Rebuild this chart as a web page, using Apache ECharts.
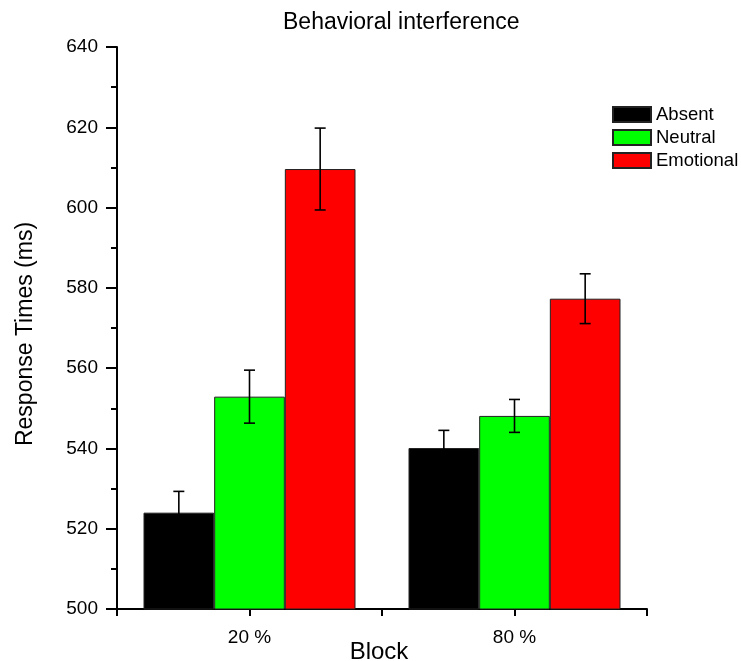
<!DOCTYPE html>
<html>
<head>
<meta charset="utf-8">
<script src="https://cdn.jsdelivr.net/npm/echarts@6/dist/echarts.min.js"></script>
<style>
  html, body { margin: 0; padding: 0; background: #fff; }
  #chart { width: 741px; height: 661px; }
</style>
</head>
<body>
<div id="chart"></div>
<script>
// Block conditions on the x axis
var blocks = ['20 %', '80 %'];
// Mean response times (ms) per distractor type
var absent = [524.0, 540.1];
var neutral = [552.9, 548.1];
var emotional = [609.6, 577.3];
// Standard errors (ms)
var absentErr = [5.3, 4.4];
var neutralErr = [6.6, 4.1];
var emotionalErr = [10.2, 6.2];
var seriesNames = ['Absent', 'Neutral', 'Emotional'];
var colors = ['#000000', '#00ff00', '#ff0000'];

var FONT = '"Liberation Sans", Arial, sans-serif';
var CAT_GAP = 0.2;   // fraction of band left empty around each group

function errorSeries(idx, means, errs) {
  var data = means.map(function (m, i) { return [i, m, errs[i]]; });
  return {
    type: 'custom',
    name: seriesNames[idx] + ' SE',
    xAxisIndex: 0,
    yAxisIndex: 0,
    z: 5,
    silent: true,
    data: data,
    renderItem: function (params, api) {
      var cat = api.value(0);
      var mean = api.value(1);
      var err = api.value(2);
      var band = api.size([1, 0])[0];
      var barW = band * (1 - CAT_GAP) / 3;
      var center = api.coord([cat, mean]);
      var x = center[0] + (idx - 1) * barW;
      var top = api.coord([cat, mean + err])[1];
      var bot = api.coord([cat, mean - err])[1];
      var cap = 5.5;
      var st = { stroke: '#000', lineWidth: 1.6 };
      return {
        type: 'group',
        children: [
          { type: 'line', shape: { x1: x, y1: top, x2: x, y2: bot }, style: st },
          { type: 'line', shape: { x1: x - cap, y1: top, x2: x + cap, y2: top }, style: st },
          { type: 'line', shape: { x1: x - cap, y1: bot, x2: x + cap, y2: bot }, style: st }
        ]
      };
    }
  };
}

function barSeries(idx, values) {
  return {
    type: 'bar',
    name: seriesNames[idx],
    data: values,
    xAxisIndex: 0,
    yAxisIndex: 0,
    barGap: '0%',
    barCategoryGap: (CAT_GAP * 100) + '%',
    itemStyle: { color: colors[idx], borderColor: '#222', borderWidth: 1 }
  };
}

var chart = echarts.init(document.getElementById('chart'), null, { renderer: 'canvas' });
chart.setOption({
  animation: false,
  backgroundColor: '#ffffff',
  title: {
    text: 'Behavioral interference',
    left: 283,
    top: 11,
    padding: 0,
    textStyle: { fontFamily: FONT, fontSize: 23, fontWeight: 'normal', color: '#000' }
  },
  legend: {
    orient: 'vertical',
    left: 612,
    top: 105,
    padding: 0,
    icon: 'rect',
    itemWidth: 38,
    itemHeight: 15,
    itemGap: 4,
    data: seriesNames,
    textStyle: { fontFamily: FONT, fontSize: 18.5, color: '#000' }
  },
  grid: { left: 117, right: 94, top: 47, bottom: 52, containLabel: false, outerBoundsMode: 'none' },
  xAxis: [
    {
      type: 'category',
      data: blocks,
      name: 'Block',
      nameLocation: 'middle',
      nameGap: 31,
      nameMoveOverlap: false,
      nameTextStyle: { fontFamily: FONT, fontSize: 24, color: '#000', padding: [0, 6, 0, 0] },
      axisLine: { lineStyle: { color: '#000', width: 2 } },
      axisTick: { show: true, length: 7, lineStyle: { color: '#000', width: 2 } },
      axisLabel: { fontFamily: FONT, fontSize: 19, color: '#000', margin: 19 },
      splitLine: { show: false }
    },
    {
      // second category axis only supplies the centred ticks
      type: 'category',
      data: blocks,
      position: 'bottom',
      axisLine: { show: false },
      axisTick: { show: true, alignWithLabel: true, length: 7, lineStyle: { color: '#000', width: 2 } },
      axisLabel: { show: false },
      splitLine: { show: false }
    }
  ],
  yAxis: {
    type: 'value',
    min: 500,
    max: 640,
    interval: 20,
    name: 'Response Times (ms)',
    nameLocation: 'middle',
    nameGap: 80,
    nameMoveOverlap: false,
    nameTextStyle: { fontFamily: FONT, fontSize: 23, color: '#000', padding: [0, 12, 0, 0] },
    axisLine: { show: true, lineStyle: { color: '#000', width: 2 } },
    axisTick: { show: true, length: 11, lineStyle: { color: '#000', width: 2 } },
    minorTick: { show: true, splitNumber: 2, length: 6, lineStyle: { color: '#000', width: 2 } },
    axisLabel: { fontFamily: FONT, fontSize: 19, color: '#000', margin: 19 },
    splitLine: { show: false }
  },
  series: [
    barSeries(0, absent),
    barSeries(1, neutral),
    barSeries(2, emotional),
    errorSeries(0, absent, absentErr),
    errorSeries(1, neutral, neutralErr),
    errorSeries(2, emotional, emotionalErr)
  ]
});
</script>
</body>
</html>
